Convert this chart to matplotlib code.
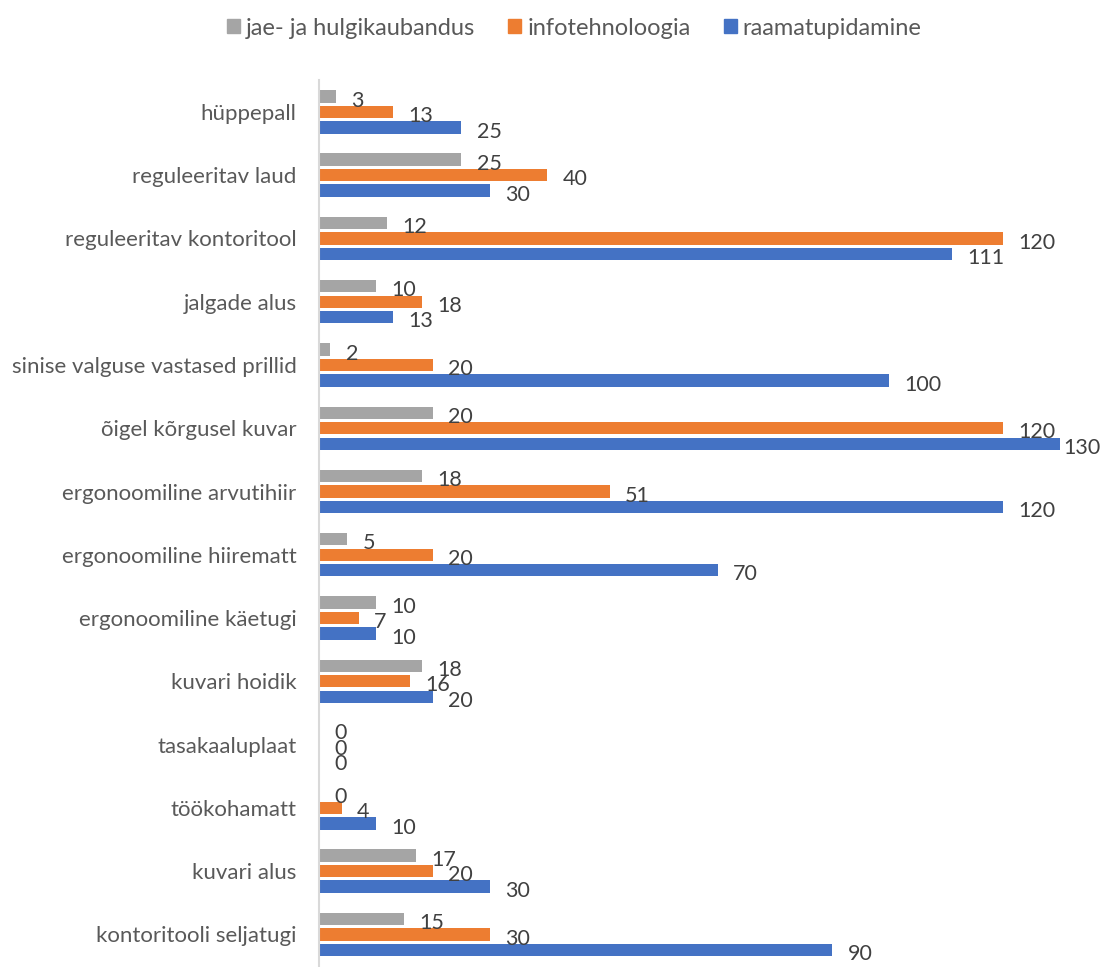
import numpy as np
import matplotlib.pyplot as plt
from matplotlib.patches import Patch

plt.rcParams['font.family'] = ['Lato', 'DejaVu Sans']

categories = ['hüppepall', 'reguleeritav laud', 'reguleeritav kontoritool', 'jalgade alus',
              'sinise valguse vastased prillid', 'õigel kõrgusel kuvar', 'ergonoomiline arvutihiir',
              'ergonoomiline hiirematt', 'ergonoomiline käetugi', 'kuvari hoidik',
              'tasakaaluplaat', 'töökohamatt', 'kuvari alus', 'kontoritooli seljatugi']
jae = [3, 25, 12, 10, 2, 20, 18, 5, 10, 18, 0, 0, 17, 15]
info = [13, 40, 120, 18, 20, 120, 51, 20, 7, 16, 0, 4, 20, 30]
raamat = [25, 30, 111, 13, 100, 130, 120, 70, 10, 20, 0, 10, 30, 90]

series = [('jae- ja hulgikaubandus', jae, '#A5A5A5'),
          ('infotehnoloogia', info, '#ED7D31'),
          ('raamatupidamine', raamat, '#4472C4')]

fig = plt.figure(figsize=(11.15, 9.67), dpi=100)
ax = fig.add_axes([0.286, 0.001, 0.692, 0.916])

y = np.arange(len(categories))
off = 0.245
h = 0.195
xmax = 135.3
for i, (name, vals, col) in enumerate(series):
    yy = y + (i - 1) * off
    ax.barh(yy, vals, height=h, color=col, label=name)
    for v, yv in zip(vals, yy):
        # labels that would run off the chart are pulled in closer to the bar
        dx = 11 if v < 128 else 2
        ax.annotate(str(v), (v, yv), xytext=(dx, -3), textcoords='offset points',
                    ha='left', va='center', fontsize=15.5, color='#404040')

ax.set_ylim(len(categories) - 0.5, -0.5)
ax.set_xlim(0, xmax)
ax.set_yticks(y)
ax.set_yticklabels(categories, fontsize=16, color='#595959')
ax.tick_params(axis='y', length=0, pad=16)
ax.set_xticks([])
for s in ['top', 'right', 'bottom']:
    ax.spines[s].set_visible(False)
ax.spines['left'].set_color('#D9D9D9')
ax.spines['left'].set_linewidth(1.5)

handles = [Patch(color=c, label=n) for n, _, c in series]
leg = fig.legend(handles=handles, loc='center', bbox_to_anchor=(0.515, 0.971), ncol=3,
                 frameon=False, fontsize=17, handlelength=0.55, handleheight=0.55,
                 handletextpad=0.25, columnspacing=1.4, labelcolor='#595959')

fig.savefig('out.png', dpi=100)
